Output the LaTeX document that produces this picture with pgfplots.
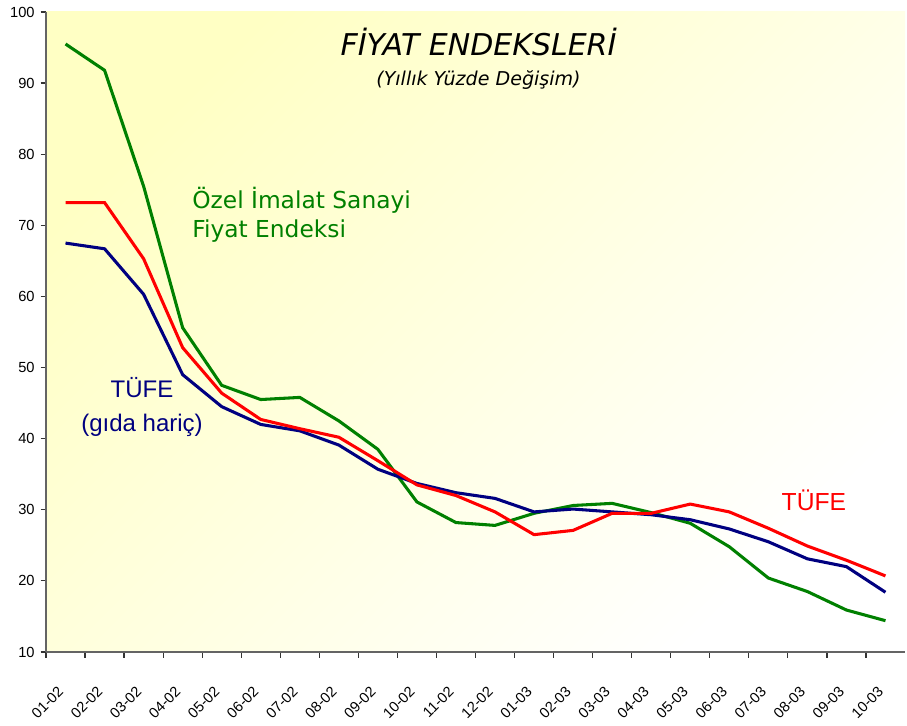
\documentclass[border=0pt]{standalone}
\usepackage{fontspec}
\setmainfont{Liberation Sans}
\newfontfamily\tahoma{DejaVu Sans}
\usepackage{pgfplots}
\pgfplotsset{compat=1.18}
\definecolor{cgreen}{RGB}{0,128,0}
\definecolor{cred}{RGB}{255,0,0}
\definecolor{cblue}{RGB}{0,0,128}
\definecolor{bgy}{RGB}{255,255,196}
\definecolor{axgray}{RGB}{100,100,100}
\begin{document}
\begin{tikzpicture}
\begin{axis}[
  scale only axis, width=644.25pt, height=480pt,
  xmin=-0.5, xmax=21.5, ymin=10, ymax=100,
  axis lines=left,
  axis line style={-, draw=axgray, line width=1pt},
  xtick={0,...,21},
  xticklabels={01-02,02-02,03-02,04-02,05-02,06-02,07-02,08-02,09-02,10-02,11-02,12-02,01-03,02-03,03-03,04-03,05-03,06-03,07-03,08-03,09-03,10-03},
  major x tick style={draw=none},
  minor xtick={-0.5,0.5,...,20.5},
  ytick={10,20,...,100},
  tick align=outside,
  tick style={draw=black!80, line width=0.9pt},
  major tick length=4pt, minor tick length=4.5pt,
  tick label style={font=\fontsize{11}{13}\selectfont},
  /pgf/number format/assume math mode=true,
  xticklabel style={rotate=45, anchor=north east, xshift=-16pt, yshift=-7pt},
  yticklabel style={xshift=-1pt},
  axis background/.style={left color=bgy, right color=white, shading angle=45},
  clip=false,
]
\path (rel axis cs:-0.05355,-0.10625) rectangle (rel axis cs:1.00233,1.01875);

\addplot[cgreen, line width=2.3pt] coordinates {
(0,95.5)(1,91.8)(2,75.5)(3,55.6)(4,47.5)(5,45.5)(6,45.8)(7,42.5)(8,38.5)(9,31.1)
(10,28.2)(11,27.8)(12,29.5)(13,30.6)(14,30.9)(15,29.6)(16,28.1)(17,24.8)(18,20.4)(19,18.5)(20,15.9)(21,14.4)};
\addplot[cblue, line width=2.3pt] coordinates {
(0,67.5)(1,66.7)(2,60.3)(3,49.0)(4,44.5)(5,42.0)(6,41.1)(7,39.1)(8,35.7)(9,33.7)
(10,32.4)(11,31.6)(12,29.7)(13,30.1)(14,29.7)(15,29.3)(16,28.6)(17,27.3)(18,25.5)(19,23.1)(20,22.0)(21,18.4)};
\addplot[cred, line width=2.3pt] coordinates {
(0,73.2)(1,73.2)(2,65.3)(3,52.8)(4,46.4)(5,42.7)(6,41.4)(7,40.2)(8,36.9)(9,33.5)
(10,32.0)(11,29.7)(12,26.5)(13,27.1)(14,29.5)(15,29.5)(16,30.8)(17,29.7)(18,27.4)(19,24.9)(20,22.9)(21,20.7)};

\node[font=\tahoma\itshape\fontsize{22.5}{26}\selectfont] at (rel axis cs:0.5035,0.953) {FİYAT ENDEKSLERİ};
\node[font=\tahoma\itshape\fontsize{14.3}{17}\selectfont] at (rel axis cs:0.5035,0.894) {(Yıllık Yüzde Değişim)};
\node[anchor=west, align=left, text=cgreen, inner sep=0pt, font=\tahoma\fontsize{17.5}{21.75}\selectfont] at (rel axis cs:0.170,0.683)
  {Özel İmalat Sanayi\\Fiyat Endeksi};
\node[align=center, text=cblue, inner sep=0pt, font=\fontsize{18}{25.5}\selectfont] at (rel axis cs:0.1118,0.383)
  {TÜFE\\(gıda hariç)};
\node[text=cred, inner sep=0pt, font=\fontsize{18.5}{22}\selectfont] at (rel axis cs:0.894,0.2375)
  {TÜFE};
\end{axis}
\end{tikzpicture}
\end{document}
